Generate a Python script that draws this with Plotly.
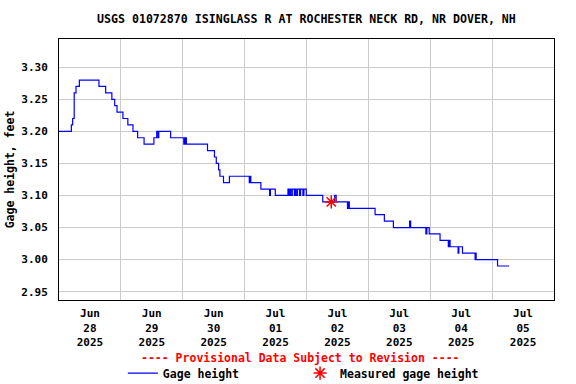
import pandas as pd
import plotly.graph_objects as go

TITLE = "USGS 01072870 ISINGLASS R AT ROCHESTER NECK RD, NR DOVER, NH"
START = pd.Timestamp("2025-06-28 00:00")

# Step-change points of the gage height record: hours since Jun 28 00:00, value (ft)
hours = [0.0, 4.8, 5.3, 5.9, 6.6, 7.9, 15.5, 18.1, 20.5, 21.6, 22.5, 24.8, 26.7,
         28.7, 30.5, 33.0, 36.8, 37.9, 38.4, 38.7, 43.3, 48.4, 48.6, 48.9, 49.1,
         49.4, 57.6, 60.3, 61.0, 61.9, 62.4, 63.8, 66.1, 73.8, 74.1, 74.4, 78.3,
         81.7, 82.0, 83.9, 88.8, 89.2, 89.6, 90.0, 90.5, 91.3, 91.6, 92.0, 92.5,
         93.3, 93.7, 94.6, 95.0, 95.9, 102.3, 106.9, 107.5, 111.9, 112.2, 112.6,
         122.6, 126.2, 129.7, 136.0, 136.4, 142.3, 142.7, 143.6, 147.8, 151.0,
         151.3, 151.7, 154.8, 155.1, 156.5, 161.4, 161.6, 161.8, 170.1, 174.6]
gage = [3.20, 3.21, 3.22, 3.26, 3.27, 3.28, 3.27, 3.26, 3.25, 3.24, 3.23, 3.22, 3.21,
        3.20, 3.19, 3.18, 3.19, 3.20, 3.19, 3.20, 3.19, 3.18, 3.19, 3.18, 3.19,
        3.18, 3.17, 3.16, 3.15, 3.14, 3.13, 3.12, 3.13, 3.12, 3.13, 3.12, 3.11,
        3.10, 3.11, 3.10, 3.11, 3.10, 3.11, 3.10, 3.11, 3.10, 3.11, 3.10, 3.11,
        3.10, 3.11, 3.10, 3.11, 3.10, 3.09, 3.10, 3.09, 3.08, 3.09, 3.08,
        3.07, 3.06, 3.05, 3.06, 3.05, 3.04, 3.05, 3.04, 3.03, 3.02,
        3.03, 3.02, 3.01, 3.02, 3.01, 3.00, 3.01, 3.00, 2.99, 2.99]

# Field measurement
meas_hours = [105.6]
meas_gage = [3.09]

y_ticks = [2.95, 3.00, 3.05, 3.10, 3.15, 3.20, 3.25, 3.30]

times = [START + pd.Timedelta(hours=h) for h in hours]
meas_times = [START + pd.Timedelta(hours=h) for h in meas_hours]

FONT = "DejaVu Sans Mono"
LEGEND_FONT = dict(family=FONT, size=11.5, color="black", weight="bold")

fig = go.Figure()
fig.add_trace(go.Scatter(
    x=times, y=gage, mode="lines", name="Gage height",
    line=dict(color="#0000ff", width=1.2, shape="hv"), legend="legend",
))
fig.add_trace(go.Scatter(
    x=meas_times, y=meas_gage, mode="markers", name="Measured gage height",
    marker=dict(symbol="asterisk-open", size=11, color="#ff0000",
                line=dict(color="#ff0000", width=1.5)), legend="legend2",
))

fig.update_layout(
    width=576, height=384,
    margin=dict(l=59, r=22, t=39, b=84, autoexpand=False),
    paper_bgcolor="white", plot_bgcolor="white",
    font=dict(family=FONT, size=11, color="black", weight="bold"),
    title=dict(text=TITLE, x=0.532, xanchor="center", y=0.95, yref="container",
               yanchor="middle",
               font=dict(family=FONT, size=11.6, color="black", weight="bold")),
    showlegend=True,
    legend=dict(orientation="h", x=0.129, xanchor="left", y=-0.28, yanchor="middle",
                font=LEGEND_FONT, bgcolor="rgba(0,0,0,0)", itemwidth=30),
    legend2=dict(orientation="h", x=0.487, xanchor="left", y=-0.28, yanchor="middle",
                 font=LEGEND_FONT, bgcolor="rgba(0,0,0,0)", itemwidth=30),
    annotations=[dict(
        text="---- Provisional Data Subject to Revision ----",
        xref="paper", yref="paper", x=0.487, y=-0.222, xanchor="center", yanchor="middle",
        showarrow=False, font=dict(family=FONT, size=11.5, color="#ff0000", weight="bold"),
    )],
)

fig.update_xaxes(
    type="date", range=["2025-06-28", "2025-07-06"],
    tick0="2025-06-28", dtick=86400000, ticklabelmode="period",
    tickformat="%b<br>%d<br>%Y", ticks="", showgrid=True, gridcolor="#cccccc",
    gridwidth=1, showline=True, linecolor="black", linewidth=1, mirror=True,
    zeroline=False, automargin=False, ticklabelstandoff=3,
    tickfont=dict(family=FONT, size=11, weight="bold"),
)
fig.update_yaxes(
    range=[2.937, 3.344], tickvals=y_ticks, tickformat=".2f", ticks="",
    showgrid=True, gridcolor="#cccccc", gridwidth=1, automargin=False,
    ticklabelstandoff=8,
    showline=True, linecolor="black", linewidth=1, mirror=True, zeroline=False,
    title=dict(text="Gage height, feet", standoff=4,
               font=dict(family=FONT, size=11.5, weight="bold")),
    tickfont=dict(family=FONT, size=11, weight="bold"),
)

fig.write_html("out.html", config={"displayModeBar": False},
               post_script="document.body.style.margin='0';")
